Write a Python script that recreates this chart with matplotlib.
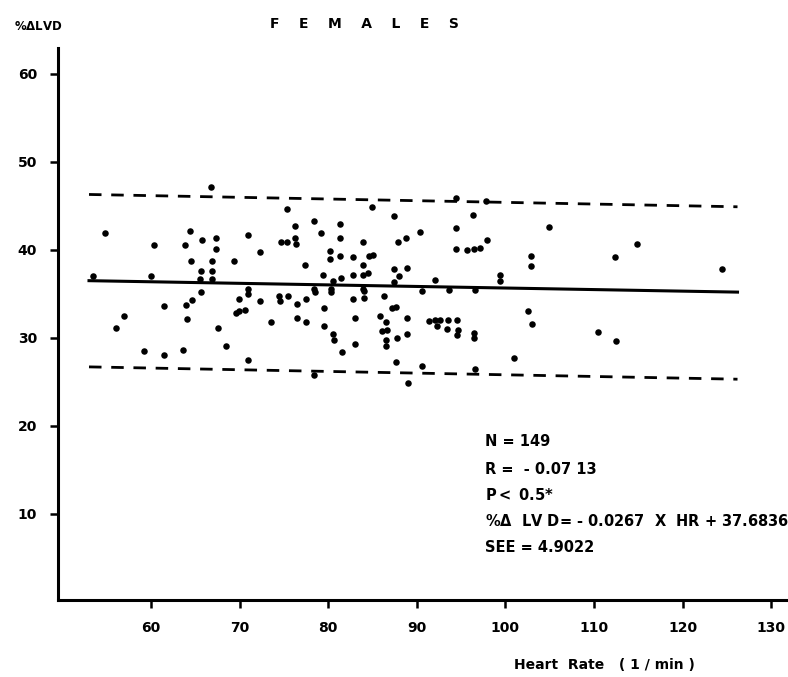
import matplotlib
matplotlib.use("Agg")
import matplotlib.pyplot as plt

plt.rcParams['font.family'] = ['DejaVu Sans']

# Heart rate (1/min) and %ΔLVD
hr = [66.8, 54.8, 64.4, 60.3, 63.8, 65.8, 67.3, 67.3, 64.5, 66.9, 69.4, 65.6, 66.9,
      53.4, 60.0, 65.5, 66.9, 65.6, 69.9, 64.6, 64.0, 61.5, 69.6, 57.0, 64.1, 56.0,
      67.6, 68.5, 59.2, 61.5, 63.6,
      75.4, 84.9, 87.4, 78.4, 81.3, 76.2, 70.95, 79.2, 81.3, 74.7, 75.3, 76.3, 76.4,
      83.9, 87.9, 88.75, 72.3, 80.2, 80.2, 81.3, 82.8, 84.6, 85.1, 77.4, 83.9, 87.4,
      88.9, 79.4, 82.8, 83.9, 84.5, 81.5, 88.0, 80.5, 87.4, 70.95, 70.95, 78.4, 78.5,
      80.3, 80.3, 83.9, 84.0, 72.3, 74.4, 74.6, 75.5, 77.5, 82.8, 84.0, 86.3, 76.5,
      79.5, 87.2, 87.6, 69.9, 70.6, 76.5, 77.5, 73.5, 79.5, 83.0, 85.9, 86.55, 88.9,
      86.1, 86.6, 80.55, 80.6, 87.8, 88.9, 86.5, 86.5, 83.0, 81.6, 71.0, 87.6, 78.4,
      89.05,
      94.4, 97.8, 96.4, 104.9, 90.4, 94.4, 97.9, 94.4, 95.7, 96.5, 97.1, 102.9, 102.9,
      99.4, 99.4, 92.0, 90.6, 93.6, 96.6, 102.5, 91.4, 92.0, 92.25, 92.6, 93.5, 94.55,
      93.4, 94.6, 94.5, 103.05, 96.5, 96.5, 101.0, 90.6, 96.6,
      114.9, 112.4, 124.5, 110.5, 112.5]
lvd = [47.2, 41.9, 42.1, 40.6, 40.6, 41.1, 41.3, 40.1, 38.75, 38.75, 38.75, 37.6, 37.65,
       37.0, 37.0, 36.7, 36.7, 35.2, 34.4, 34.3, 33.7, 33.6, 32.8, 32.5, 32.2, 31.1,
       31.1, 29.1, 28.5, 28.1, 28.6,
       44.7, 44.85, 43.8, 43.3, 42.9, 42.7, 41.7, 41.9, 41.3, 40.9, 40.9, 41.3, 40.7,
       40.9, 40.9, 41.4, 39.8, 39.9, 39.0, 39.3, 39.2, 39.3, 39.4, 38.3, 38.3, 37.8,
       37.95, 37.2, 37.2, 37.2, 37.35, 36.8, 37.0, 36.5, 36.4, 35.6, 35.0, 35.6, 35.2,
       35.6, 35.2, 35.6, 35.3, 34.2, 34.8, 34.2, 34.8, 34.4, 34.4, 34.5, 34.8, 33.8,
       33.45, 33.4, 33.5, 33.0, 33.2, 32.3, 31.8, 31.8, 31.4, 32.3, 32.5, 31.8, 32.3,
       30.8, 30.9, 30.45, 29.7, 30.0, 30.45, 29.7, 29.1, 29.35, 28.4, 27.5, 27.2, 25.8,
       24.85,
       45.9, 45.6, 44.0, 42.65, 42.0, 42.45, 41.1, 40.1, 40.0, 40.1, 40.2, 39.25, 38.2,
       37.2, 36.5, 36.6, 35.3, 35.45, 35.45, 33.1, 31.9, 32.0, 31.4, 32.0, 32.05, 32.0,
       31.0, 30.9, 30.3, 31.55, 30.6, 30.0, 27.7, 26.8, 26.5,
       40.7, 39.2, 37.8, 30.65, 29.6]

# Regression line and +/- 2 SEE band (end points)
fit_x = [53.0, 126.2]
fit_y = [36.5, 35.2]
upper_y = [46.3, 44.9]
lower_y = [26.7, 25.3]

x_ticks = [60, 70, 80, 90, 100, 110, 120, 130]
y_ticks = [10, 20, 30, 40, 50, 60]

stats = ["N = 149", "R =  - 0.07 13", "P$\\mathbf{<}$ 0.5*",
         "%$\\mathbf{\\Delta}$  LV D= - 0.0267  X  HR + 37.6836", "SEE = 4.9022"]

W, H = 788, 677
fig = plt.figure(figsize=(W / 100, H / 100), dpi=100)
ax = fig.add_axes([58 / W, (H - 600) / H, (W - 58) / W, 552 / H])

ax.scatter(hr, lvd, s=22, color='black', zorder=3, linewidths=0)
ax.plot(fit_x, fit_y, color='black', lw=2.2)
ax.plot(fit_x, upper_y, color='black', lw=2.0, dashes=(4.5, 3.5))
ax.plot(fit_x, lower_y, color='black', lw=2.0, dashes=(4.5, 3.5))

ax.set_xlim(49.5, 131.9)
ax.set_ylim(0.2, 62.95)
ax.set_xticks(x_ticks)
ax.set_yticks(y_ticks)
for s in ['top', 'right']:
    ax.spines[s].set_visible(False)
for s in ['left', 'bottom']:
    ax.spines[s].set_linewidth(2.2)
ax.tick_params(axis='both', direction='out', length=6, width=1.8, labelsize=10, pad=9)
for lab in ax.get_xticklabels() + ax.get_yticklabels():
    lab.set_fontweight('bold')

def ftext(x, y, s, **kw):
    fig.text(x / W, 1 - y / H, s, va='center', **kw)

ftext(364, 24, "F    E    M    A    L    E    S", ha='center', fontsize=10, fontweight='bold')
ftext(14, 26, "%$\\mathbf{\\Delta}$LVD", ha='left', fontsize=8.5, fontweight='bold')
ftext(604, 665, "Heart  Rate   ( 1 / min )", ha='center', fontsize=10, fontweight='bold')

ys = [442, 469, 495, 521, 548]
for y, s in zip(ys, stats):
    ftext(485, y, s, ha='left', fontsize=10.5, fontweight='bold')

fig.savefig("out.png", dpi=100)
